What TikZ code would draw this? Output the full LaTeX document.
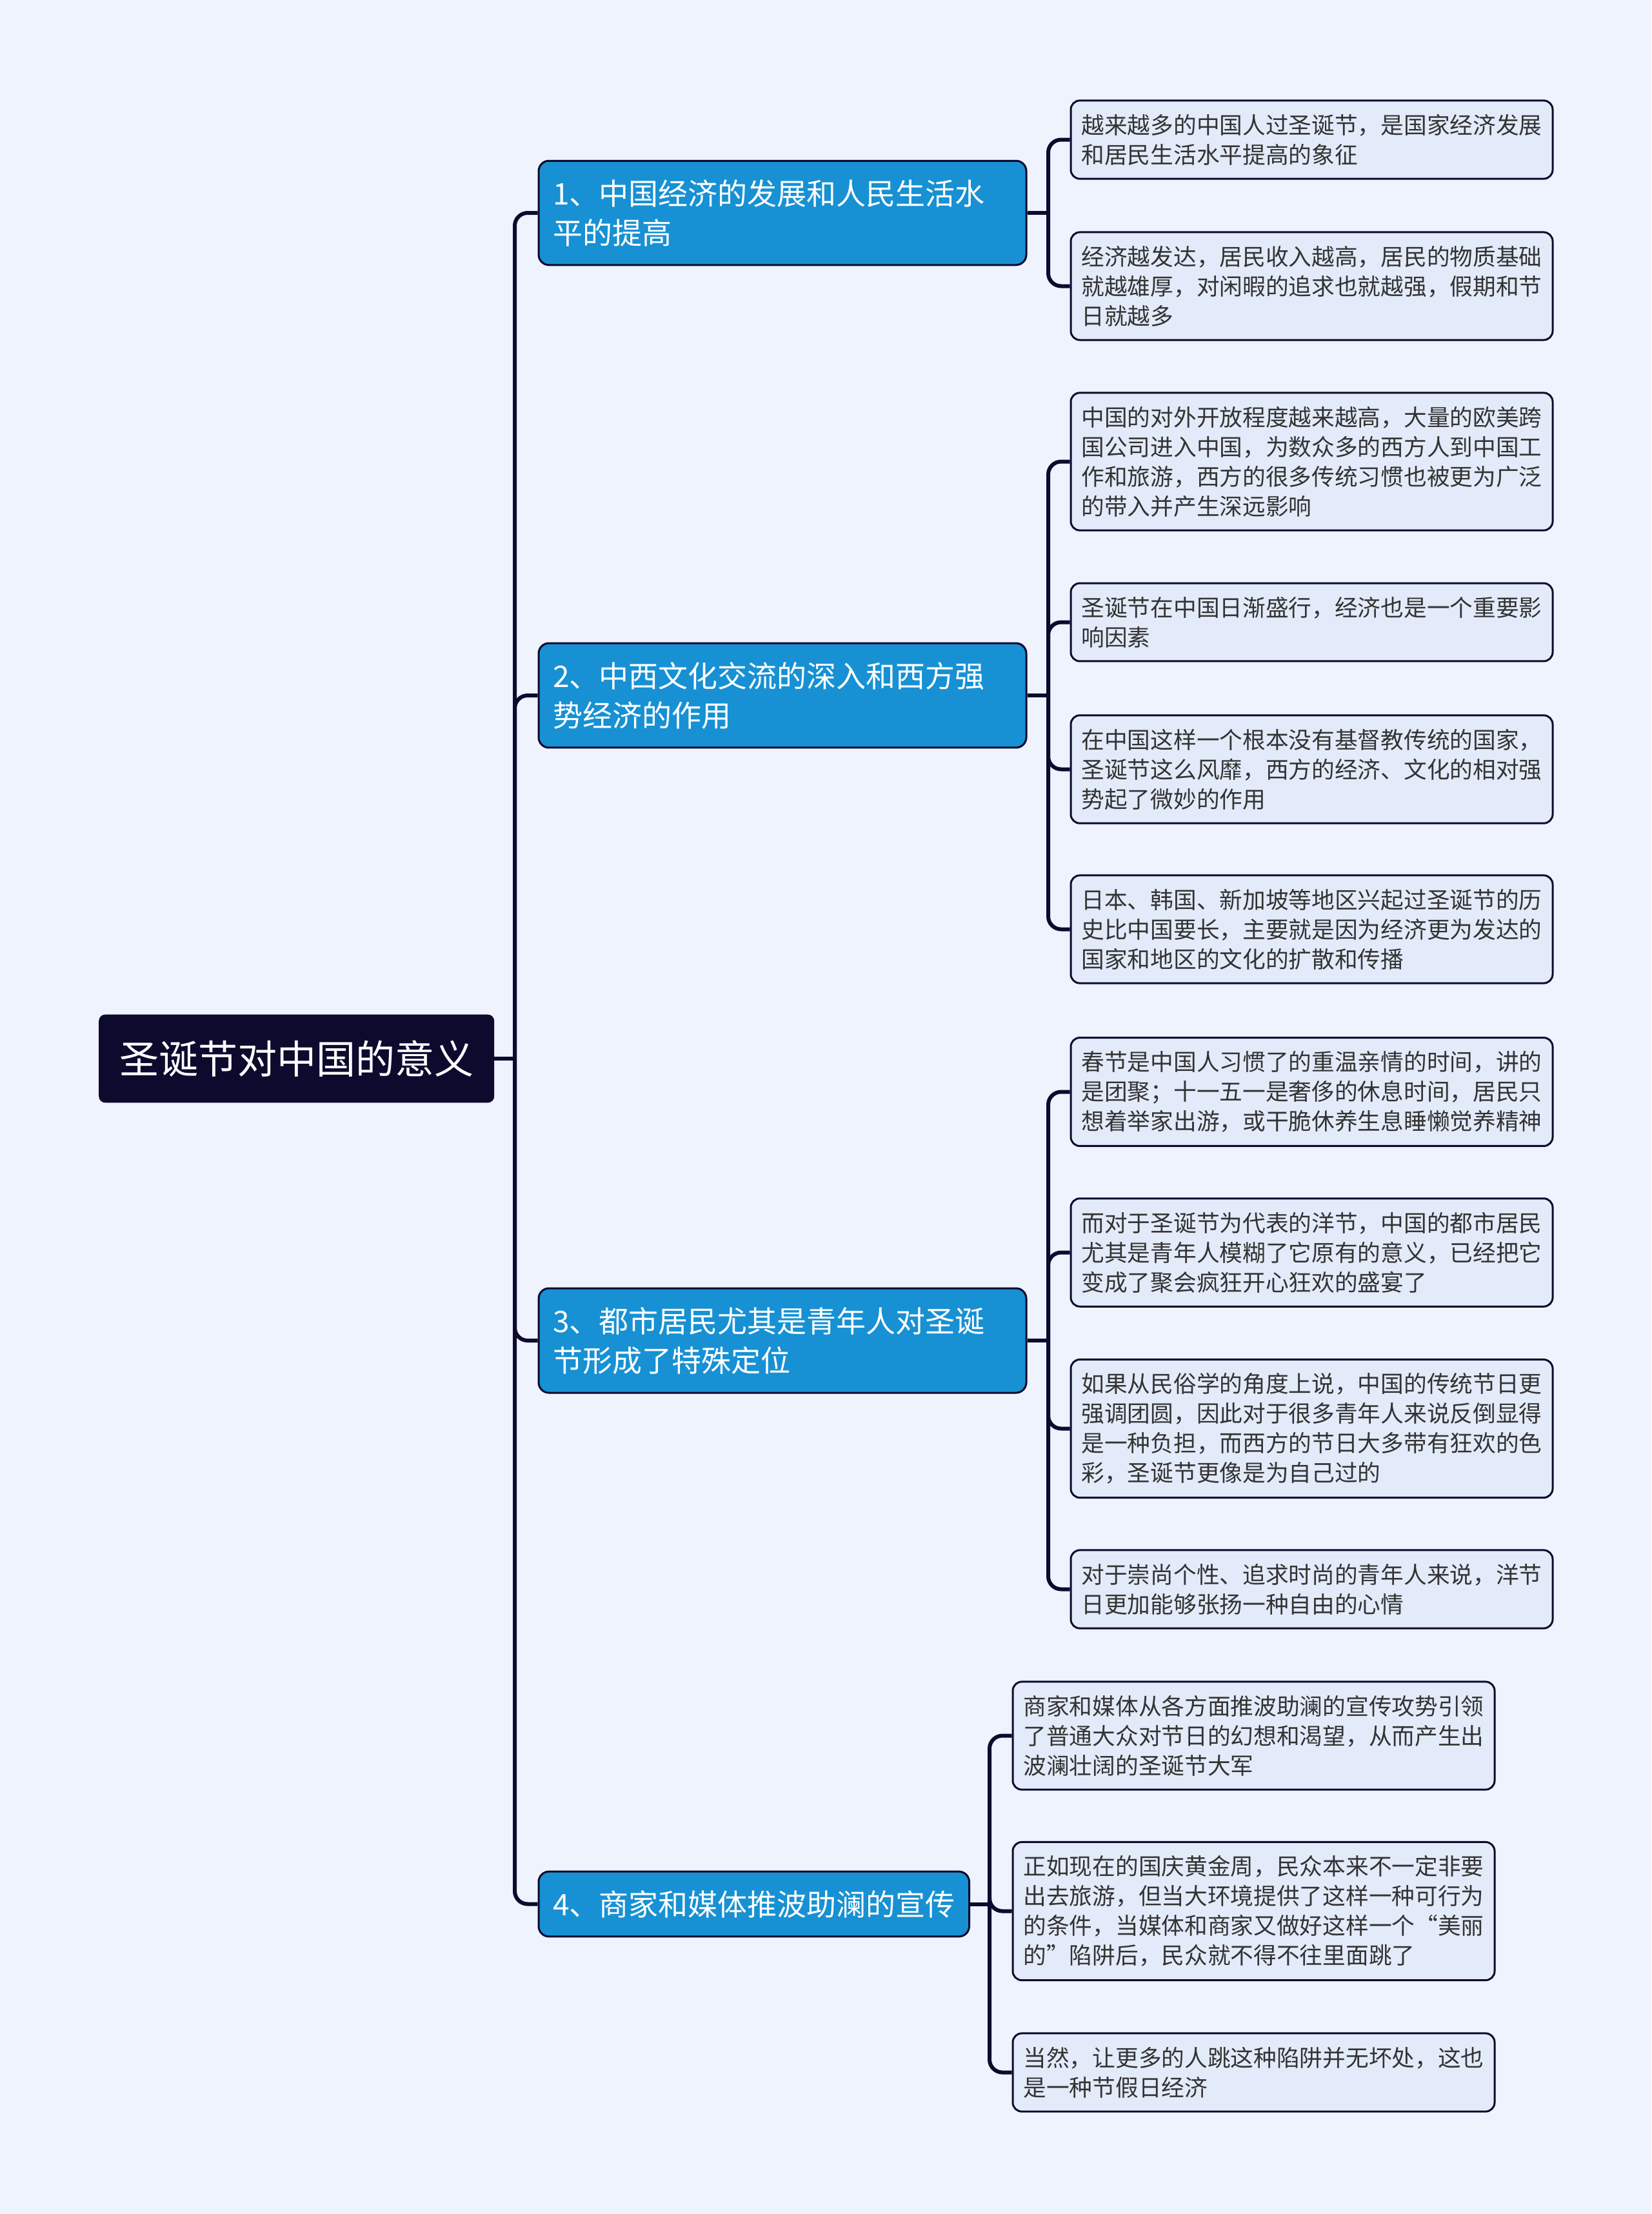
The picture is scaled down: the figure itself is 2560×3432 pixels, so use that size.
\documentclass[tikz,border=0pt]{standalone}
\usepackage{fontspec}
\setmainfont{Noto Sans CJK SC}
\definecolor{bgcol}{HTML}{EEF3FD}
\definecolor{navy}{HTML}{0D0A2E}
\definecolor{topicblue}{HTML}{1791D3}
\definecolor{leaffill}{HTML}{E3EBFA}
\definecolor{leaftext}{HTML}{333333}
\tikzset{
	link/.style={draw=navy, line width=6, rounded corners=20},
	rootbox/.style={fill=navy, rounded corners=10, text=white, font=\fontsize{61}{70}\selectfont, inner xsep=32, inner ysep=40, anchor=west},
	topic/.style={fill=topicblue, draw=navy, line width=3, rounded corners=16, text=white, font=\fontsize{46}{61}\selectfont, align=left, inner xsep=22, inner ysep=29, anchor=west},
	wide/.style={text width=712},
	leaf/.style={fill=leaffill, draw=navy, line width=3, rounded corners=14, text=leaftext, font=\fontsize{35.7}{46}\selectfont, text width=714, align=left, inner xsep=16.5, inner ysep=21, anchor=west},
}
\begin{document}
\begin{tikzpicture}[x=1pt, y=-1pt]
	\fill[bgcol] (0, 0) rectangle (2560, 3432);
	% root and topics
	\node[rootbox] (root) at (153, 1641) {圣诞节对中国的意义};
	\node[topic, wide] (t1) at (833.5, 330) {1、中国经济的发展和人民生活水\\平的提高};
	\node[topic, wide] (t2) at (833.5, 1078) {2、中西文化交流的深入和西方强\\势经济的作用};
	\node[topic, wide] (t3) at (833.5, 2078) {3、都市居民尤其是青年人对圣诞\\节形成了特殊定位};
	\node[topic] (t4) at (833.5, 2951.5) {4、商家和媒体推波助澜的宣传};
	% leaves
	\node[leaf] (l1a) at (1658.5, 216.5) {越来越多的中国人过圣诞节，是国家经济发展\\和居民生活水平提高的象征};
	\node[leaf] (l1b) at (1658.5, 443.5) {经济越发达，居民收入越高，居民的物质基础\\就越雄厚，对闲暇的追求也就越强，假期和节\\日就越多};
	\node[leaf] (l2a) at (1658.5, 715.5) {中国的对外开放程度越来越高，大量的欧美跨\\国公司进入中国，为数众多的西方人到中国工\\作和旅游，西方的很多传统习惯也被更为广泛\\的带入并产生深远影响};
	\node[leaf] (l2b) at (1658.5, 964.5) {圣诞节在中国日渐盛行，经济也是一个重要影\\响因素};
	\node[leaf] (l2c) at (1658.5, 1192.5) {在中国这样一个根本没有基督教传统的国家，\\圣诞节这么风靡，西方的经济、文化的相对强\\势起了微妙的作用};
	\node[leaf] (l2d) at (1658.5, 1440.5) {日本、韩国、新加坡等地区兴起过圣诞节的历\\史比中国要长，主要就是因为经济更为发达的\\国家和地区的文化的扩散和传播};
	\node[leaf] (l3a) at (1658.5, 1692.5) {春节是中国人习惯了的重温亲情的时间，讲的\\是团聚；十一五一是奢侈的休息时间，居民只\\想着举家出游，或干脆休养生息睡懒觉养精神};
	\node[leaf] (l3b) at (1658.5, 1941.5) {而对于圣诞节为代表的洋节，中国的都市居民\\尤其是青年人模糊了它原有的意义，已经把它\\变成了聚会疯狂开心狂欢的盛宴了};
	\node[leaf] (l3c) at (1658.5, 2214.5) {如果从民俗学的角度上说，中国的传统节日更\\强调团圆，因此对于很多青年人来说反倒显得\\是一种负担，而西方的节日大多带有狂欢的色\\彩，圣诞节更像是为自己过的};
	\node[leaf] (l3d) at (1658.5, 2463.5) {对于崇尚个性、追求时尚的青年人来说，洋节\\日更加能够张扬一种自由的心情};
	\node[leaf] (l4a) at (1568.5, 2690.5) {商家和媒体从各方面推波助澜的宣传攻势引领\\了普通大众对节日的幻想和渴望，从而产生出\\波澜壮阔的圣诞节大军};
	\node[leaf] (l4b) at (1568.5, 2962.5) {正如现在的国庆黄金周，民众本来不一定非要\\出去旅游，但当大环境提供了这样一种可行为\\的条件，当媒体和商家又做好这样一个“美丽\\的”陷阱后，民众就不得不往里面跳了};
	\node[leaf] (l4c) at (1568.5, 3212.5) {当然，让更多的人跳这种陷阱并无坏处，这也\\是一种节假日经济};
	% connectors
	\coordinate (r0) at (798, 1641);
	\draw[link] (root.east) -- (r0);
	\foreach \n in {t1, t2, t3, t4}
		\draw[link] (r0) |- (\n.west);
	\coordinate (s1) at (1625, 330);
	\draw[link] (t1.east) -- (s1);
	\foreach \n in {l1a, l1b}
		\draw[link] (s1) |- (\n.west);
	\coordinate (s2) at (1625, 1078);
	\draw[link] (t2.east) -- (s2);
	\foreach \n in {l2a, l2b, l2c, l2d}
		\draw[link] (s2) |- (\n.west);
	\coordinate (s3) at (1625, 2078);
	\draw[link] (t3.east) -- (s3);
	\foreach \n in {l3a, l3b, l3c, l3d}
		\draw[link] (s3) |- (\n.west);
	\coordinate (s4) at (1534, 2951.5);
	\draw[link] (t4.east) -- (s4);
	\foreach \n in {l4a, l4b, l4c}
		\draw[link] (s4) |- (\n.west);
\end{tikzpicture}
\end{document}
